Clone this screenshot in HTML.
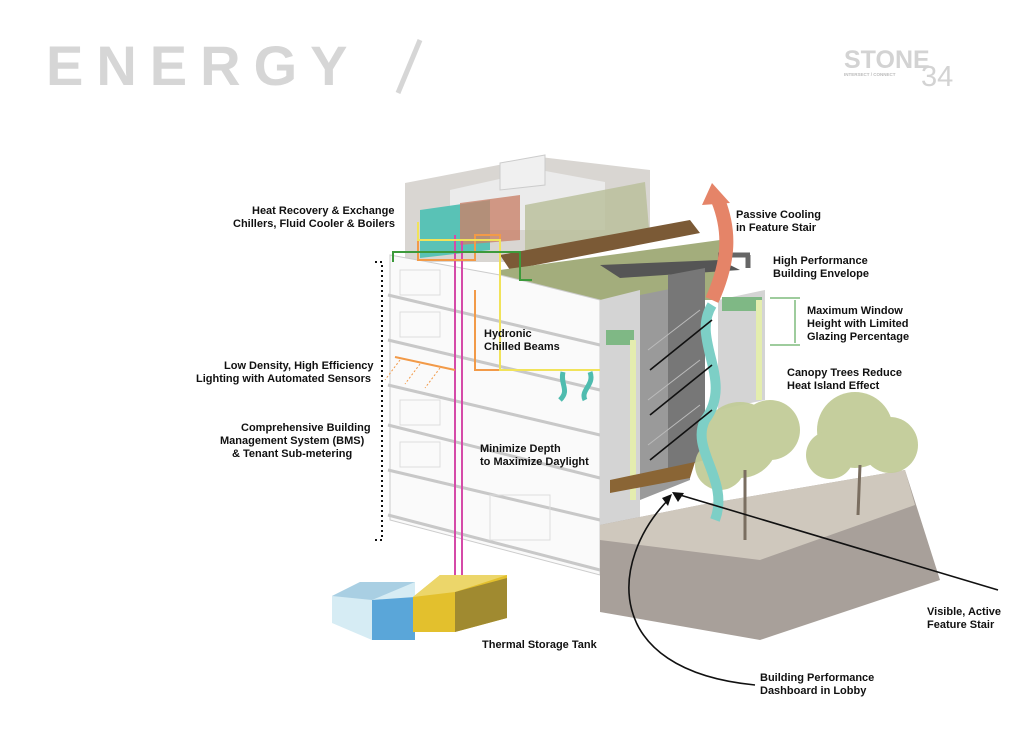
<!DOCTYPE html>
<html><head><meta charset="utf-8"><style>
html,body{margin:0;padding:0;background:#fff;}
svg{display:block;}
text{font-family:"Liberation Sans",Arial,sans-serif;font-weight:bold;font-size:11px;fill:#111;}
</style></head><body>
<svg width="1024" height="736" viewBox="0 0 1024 736" xmlns="http://www.w3.org/2000/svg">
<rect width="1024" height="736" fill="#fff"/>
<!-- title -->
<text x="46" y="85" style="font-size:56px;fill:#d6d6d6;letter-spacing:13px;font-weight:bold">ENERGY</text>
<line x1="420" y1="40" x2="398" y2="93" stroke="#d6d6d6" stroke-width="5"/>
<text x="844" y="68" style="font-size:25px;fill:#d3d3d3">STONE</text>
<text x="921" y="86" style="font-size:29px;fill:#d3d3d3;font-weight:normal">34</text>
<text x="844" y="76" style="font-size:4.5px;fill:#bbb">INTERSECT / CONNECT</text>

<!-- roof structures -->
<polygon points="405,183 540,157 650,170 650,240 545,262 405,262" fill="#d9d6d2"/>
<polygon points="450,190 540,170 605,182 605,230 450,230" fill="#ebebeb"/>
<polygon points="500,163 545,155 545,185 500,190" fill="#f0f0f0" stroke="#ccc"/>
<polygon points="525,205 645,182 650,240 525,260" fill="#b8be98" opacity="0.8"/>
<polygon points="420,210 490,200 490,250 420,258" fill="#59c2b6"/>
<polygon points="460,203 520,195 520,240 460,245" fill="#c9826a" opacity="0.8"/>
<polygon points="500,255 690,220 700,233 510,270" fill="#7b5a36"/>
<polygon points="500,270 720,240 720,300 600,300 500,290" fill="#a3ad7c"/>
<polygon points="600,265 720,260 740,270 620,278" fill="#555"/>
<line x1="718" y1="255" x2="750" y2="255" stroke="#666" stroke-width="5"/>
<line x1="748" y1="255" x2="748" y2="268" stroke="#666" stroke-width="5"/>

<!-- building front -->
<polygon points="390,255 500,275 600,300 600,575 390,520" fill="#fafafa" stroke="#ccc"/>
<g stroke="#c8c8c8" stroke-width="3" fill="none">
<line x1="388" y1="295" x2="600" y2="345"/>
<line x1="388" y1="340" x2="600" y2="390"/>
<line x1="388" y1="385" x2="600" y2="435"/>
<line x1="388" y1="425" x2="600" y2="478"/>
<line x1="388" y1="470" x2="600" y2="520"/>
<line x1="388" y1="515" x2="600" y2="570"/>
</g>
<g stroke="#ddd" fill="none">
<rect x="400" y="270" width="40" height="25"/><rect x="400" y="312" width="40" height="25"/>
<rect x="400" y="400" width="40" height="25"/><rect x="400" y="442" width="40" height="25"/>
<rect x="490" y="495" width="60" height="45"/>
</g>

<!-- side facade -->
<polygon points="600,300 640,290 640,520 600,525" fill="#d4d4d4"/>
<rect x="606" y="330" width="28" height="15" fill="#7fb885"/>
<rect x="630" y="340" width="6" height="160" fill="#e4edae"/>
<polygon points="640,295 690,285 690,480 640,500" fill="#9a9a9a"/>
<polygon points="668,275 705,268 705,460 668,470" fill="#777"/>
<polygon points="718,300 765,290 765,400 718,410" fill="#d4d4d4"/>
<rect x="722" y="297" width="40" height="14" fill="#7fb885"/>
<rect x="756" y="300" width="6" height="100" fill="#e4edae"/>
<g stroke="#bbb" fill="none"><path d="M648,350 L700,310 M648,400 L700,360 M648,445 L700,405"/></g>
<polygon points="610,480 695,462 690,478 610,493" fill="#8a6535"/>

<!-- planter -->
<polygon points="600,525 700,505 905,470 940,580 760,640 600,612" fill="#a8a09a"/>
<polygon points="600,525 700,505 905,470 915,505 760,560 600,540" fill="#cfc8bd"/>
<!-- trees -->
<g fill="#c2cc98" opacity="0.95">
<circle cx="740" cy="440" r="38"/><circle cx="770" cy="430" r="30"/><circle cx="720" cy="465" r="25"/>
<circle cx="855" cy="430" r="38"/><circle cx="890" cy="445" r="28"/><circle cx="830" cy="455" r="24"/>
</g>
<g stroke="#7a6e60" stroke-width="3"><line x1="745" y1="470" x2="745" y2="540"/><line x1="860" y1="465" x2="858" y2="515"/></g>

<!-- passive cooling arrows -->
<path d="M712,300 C730,260 730,230 718,200" stroke="#e58468" stroke-width="14" fill="none"/>
<polygon points="702,205 712,183 730,203" fill="#e58468"/>
<path d="M712,305 C690,340 735,380 705,420 C690,450 730,480 715,520" stroke="#7dcfc6" stroke-width="10" fill="none"/>

<!-- pipes -->
<g stroke="#d54aa8" stroke-width="2" fill="none"><line x1="455" y1="235" x2="455" y2="590"/><line x1="462" y1="240" x2="462" y2="590"/></g>
<path d="M418,222 V260 H475 V235 H500 V290 M475,290 V370 H590" stroke="#f29a48" stroke-width="2" fill="none"/>
<path d="M418,222 V240 H500 V370 H600" stroke="#f1e35a" stroke-width="2" fill="none"/>
<path d="M393,262 V252 H520 V280 H532" stroke="#3d9a3b" stroke-width="2" fill="none"/>
<line x1="395" y1="357" x2="455" y2="370" stroke="#f29a48" stroke-width="2"/>
<g stroke="#f29a48" stroke-dasharray="2,2"><line x1="400" y1="360" x2="385" y2="380"/><line x1="420" y1="364" x2="405" y2="384"/><line x1="440" y1="368" x2="425" y2="388"/></g>
<path d="M563,372 C560,385 570,390 560,400" stroke="#4fbcaf" stroke-width="5" fill="none"/>
<path d="M590,372 C595,385 580,390 585,400" stroke="#4fbcaf" stroke-width="5" fill="none"/>

<!-- tanks -->
<polygon points="332,596 360,582 415,582 415,640 372,640 332,623" fill="#d6ecf4"/>
<polygon points="372,600 415,597 415,640 372,640" fill="#5aa6d9"/>
<polygon points="332,596 360,582 415,582 372,600" fill="#a9cfe3"/>
<polygon points="413,597 440,575 507,575 507,618 455,632 413,632" fill="#e3c02d"/>
<polygon points="455,592 507,578 507,618 455,632" fill="#a08a30"/>
<polygon points="413,597 440,575 507,575 455,592" fill="#ecd66a"/>

<!-- dotted bracket -->
<path d="M375,262 H382 V540 H375" stroke="#111" stroke-width="2" stroke-dasharray="2,3" fill="none"/>

<!-- leaders -->
<g stroke="#111" stroke-width="1.6" fill="none">
<path d="M998,590 L680,495"/>
<path d="M755,685 C600,670 610,560 668,500"/>
<path d="M650,370 L712,320 M650,415 L712,365 M650,460 L712,410"/>
</g>
<polygon points="672,492 684,493 678,502" fill="#111"/>
<polygon points="672,494 662,498 668,506" fill="#111"/>
<g stroke="#3d9a3b"><line x1="770" y1="298" x2="800" y2="298"/><line x1="770" y1="345" x2="800" y2="345"/><line x1="795" y1="300" x2="795" y2="343"/></g>

<!-- labels -->
<text x="252" y="214">Heat Recovery &amp; Exchange</text>
<text x="233" y="227">Chillers, Fluid Cooler &amp; Boilers</text>
<text x="736" y="218">Passive Cooling</text>
<text x="736" y="231">in Feature Stair</text>
<text x="773" y="264">High Performance</text>
<text x="773" y="277">Building Envelope</text>
<text x="807" y="314">Maximum Window</text>
<text x="807" y="327">Height with Limited</text>
<text x="807" y="340">Glazing Percentage</text>
<text x="484" y="337">Hydronic</text>
<text x="484" y="350">Chilled Beams</text>
<text x="224" y="369">Low Density, High Efficiency</text>
<text x="196" y="382">Lighting with Automated Sensors</text>
<text x="787" y="376">Canopy Trees Reduce</text>
<text x="787" y="389">Heat Island Effect</text>
<text x="241" y="431">Comprehensive Building</text>
<text x="220" y="444">Management System (BMS)</text>
<text x="232" y="457">&amp; Tenant Sub-metering</text>
<text x="480" y="452">Minimize Depth</text>
<text x="480" y="465">to Maximize Daylight</text>
<text x="927" y="615">Visible, Active</text>
<text x="927" y="628">Feature Stair</text>
<text x="482" y="648">Thermal Storage Tank</text>
<text x="760" y="681">Building Performance</text>
<text x="760" y="694">Dashboard in Lobby</text>
</svg>
</body></html>
